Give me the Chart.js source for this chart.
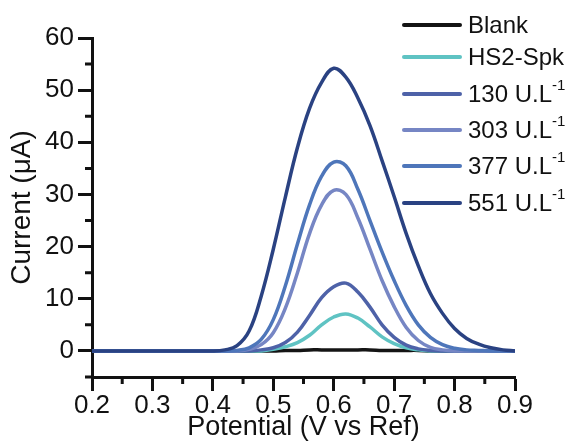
<!DOCTYPE html>
<html>
<head>
<meta charset="utf-8">
<title>Current vs Potential</title>
<script src="https://cdn.jsdelivr.net/npm/chart.js@4/dist/chart.umd.min.js"></script>
<style>
  html, body { margin: 0; padding: 0; background: #fff; }
  #wrap { position: relative; width: 572px; height: 444px; }
  #chart { display: block; }
  #legend {
    position: absolute; left: 402px; top: 3px;
    font-family: "Liberation Sans", Arial, sans-serif; font-size: 24px; color: #111;
  }
  .lg-row { display: flex; align-items: center; height: 36.3px; white-space: nowrap; }
  .lg-row:first-child { transform: translateY(4px); }
  .lg-line { width: 60px; height: 4px; margin-right: 6px; border-radius: 2px; }
  .lg-row sup { font-size: 15px; position: relative; top: -3px; vertical-align: top; line-height: 1; }
</style>
</head>
<body>
<div id="wrap">
  <canvas id="chart" width="572" height="444"></canvas>
  <div id="legend"></div>
</div>
<script>
// ── 資料 ──────────────────────────────────────────────
const potentials = [0.20, 0.30, 0.40, 0.42, 0.44, 0.46, 0.48, 0.50, 0.52, 0.54, 0.56, 0.58, 0.60, 0.62,
                    0.64, 0.66, 0.68, 0.70, 0.72, 0.74, 0.76, 0.78, 0.80, 0.82, 0.84, 0.86, 0.88, 0.90];

const blank = [0, 0, 0, 0, 0, 0, 0, 0, 0.1, 0.1, 0.2, 0.2, 0.2, 0.2,
               0.2, 0.2, 0.1, 0.1, 0.1, 0.1, 0, 0, 0, 0, 0, 0, 0, 0];
const hs2Spk = [0, 0, 0, 0, 0, 0, 0, 0.3, 0.8, 1.6, 3.0, 5.0, 6.5, 7.1,
                6.3, 4.6, 2.7, 1.4, 0.6, 0.2, 0, 0, 0, 0, 0, 0, 0, 0];
const u130 = [0, 0, 0, 0, 0, 0, 0.2, 0.6, 1.6, 3.6, 6.8, 10.2, 12.3, 13.0,
              11.3, 8.4, 5.0, 2.6, 1.1, 0.4, 0.1, 0, 0, 0, 0, 0, 0, 0];
const u303 = [0, 0, 0, 0, 0, 0.3, 1.2, 3.5, 8.2, 15.0, 22.5, 28.0, 30.8, 30.0,
              25.5, 19.5, 13.5, 8.5, 4.5, 2.0, 0.7, 0.2, 0, 0, 0, 0, 0, 0];
const u377 = [0, 0, 0, 0, 0.1, 0.6, 2.2, 6.0, 12.5, 20.5, 28.0, 33.5, 36.2, 35.5,
              31.0, 25.0, 19.0, 13.5, 8.7, 5.0, 2.6, 1.2, 0.5, 0.2, 0.1, 0, 0, 0];
const u551 = [0, 0, 0, 0.2, 1.0, 3.8, 10.5, 19.5, 29.5, 39.0, 46.5, 51.5, 54.2, 52.5,
              48.5, 43.2, 36.5, 29.6, 22.5, 16.3, 11.0, 7.2, 4.3, 2.4, 1.3, 0.6, 0.2, 0];

const seriesNames = ['Blank', 'HS2-Spk', '130 U.L', '303 U.L', '377 U.L', '551 U.L'];
const seriesSups  = ['', '', '-1', '-1', '-1', '-1'];

const xTicks = [0.2, 0.3, 0.4, 0.5, 0.6, 0.7, 0.8, 0.9];
const xMinor = [0.25, 0.35, 0.45, 0.55, 0.65, 0.75, 0.85];
const yTicks = [0, 10, 20, 30, 40, 50, 60];
const yMinor = [-5, 5, 15, 25, 35, 45, 55];

// ── 樣式 ──────────────────────────────────────────────
const COLORS = ['#141414', '#5fc3c3', '#4e62a8', '#7686c4', '#4e76ba', '#2a4282'];
const FONT = '"Liberation Sans", Arial, sans-serif';
const INK = '#111';

const allSeries = [blank, hs2Spk, u130, u303, u377, u551];

const datasets = allSeries.map((vals, i) => ({
  label: seriesNames[i],
  data: potentials.map((p, j) => ({ x: p, y: vals[j] })),
  borderColor: COLORS[i],
  backgroundColor: COLORS[i],
  order: allSeries.length - i,
}));

// 次刻度（短刻度）
const minorTicks = {
  id: 'minorTicks',
  afterDraw(chart) {
    const { ctx, chartArea, scales } = chart;
    ctx.save();
    ctx.strokeStyle = INK;
    ctx.lineWidth = 3;
    ctx.beginPath();
    xMinor.forEach(v => {
      const px = scales.x.getPixelForValue(v);
      ctx.moveTo(px, chartArea.bottom);
      ctx.lineTo(px, chartArea.bottom + 7);
    });
    yMinor.forEach(v => {
      const py = scales.y.getPixelForValue(v);
      ctx.moveTo(chartArea.left, py);
      ctx.lineTo(chartArea.left - 7, py);
    });
    ctx.stroke();
    ctx.restore();
  },
};

new Chart(document.getElementById('chart'), {
  type: 'line',
  data: { datasets },
  options: {
    responsive: false,
    animation: false,
    layout: { padding: { top: 38, right: 57, left: 0, bottom: 0 } },
    elements: {
      point: { radius: 0 },
      line: { borderWidth: 3.5, tension: 0.4, capBezierPoints: true },
    },
    plugins: {
      legend: { display: false },
      tooltip: { enabled: false },
    },
    scales: {
      x: {
        type: 'linear',
        min: 0.2, max: 0.9,
        afterFit: s => { s.height = 67; },
        afterBuildTicks: s => { s.ticks = xTicks.map(v => ({ value: v })); },
        ticks: {
          callback: v => v.toFixed(1),
          font: { family: FONT, size: 26 },
          color: INK,
          padding: -1,
          maxRotation: 0,
          autoSkip: false,
        },
        grid: { drawOnChartArea: false, tickLength: 14, tickWidth: 3, tickColor: INK },
        border: { color: INK, width: 3 },
        title: {
          display: true,
          text: 'Potential (V vs Ref)',
          font: { family: FONT, size: 27 },
          color: INK,
          padding: 0,
        },
      },
      y: {
        min: -5, max: 60,
        afterFit: s => { s.width = 92; },
        afterBuildTicks: s => { s.ticks = yTicks.map(v => ({ value: v })); },
        ticks: {
          font: { family: FONT, size: 26 },
          color: INK,
          padding: 4,
        },
        grid: { drawOnChartArea: false, tickLength: 14, tickWidth: 3, tickColor: INK },
        border: { color: INK, width: 3 },
        title: {
          display: true,
          text: 'Current (μA)',
          font: { family: FONT, size: 28 },
          color: INK,
          padding: { top: 5, bottom: 0 },
        },
      },
    },
  },
  plugins: [minorTicks],
});

// ── 圖例 ──────────────────────────────────────────────
const legendEl = document.getElementById('legend');
seriesNames.forEach((name, i) => {
  const row = document.createElement('div');
  row.className = 'lg-row';
  const sup = seriesSups[i] ? `<sup>${seriesSups[i]}</sup>` : '';
  row.innerHTML = `<span class="lg-line" style="background:${COLORS[i]}"></span><span>${name}${sup}</span>`;
  legendEl.appendChild(row);
});
</script>
</body>
</html>
